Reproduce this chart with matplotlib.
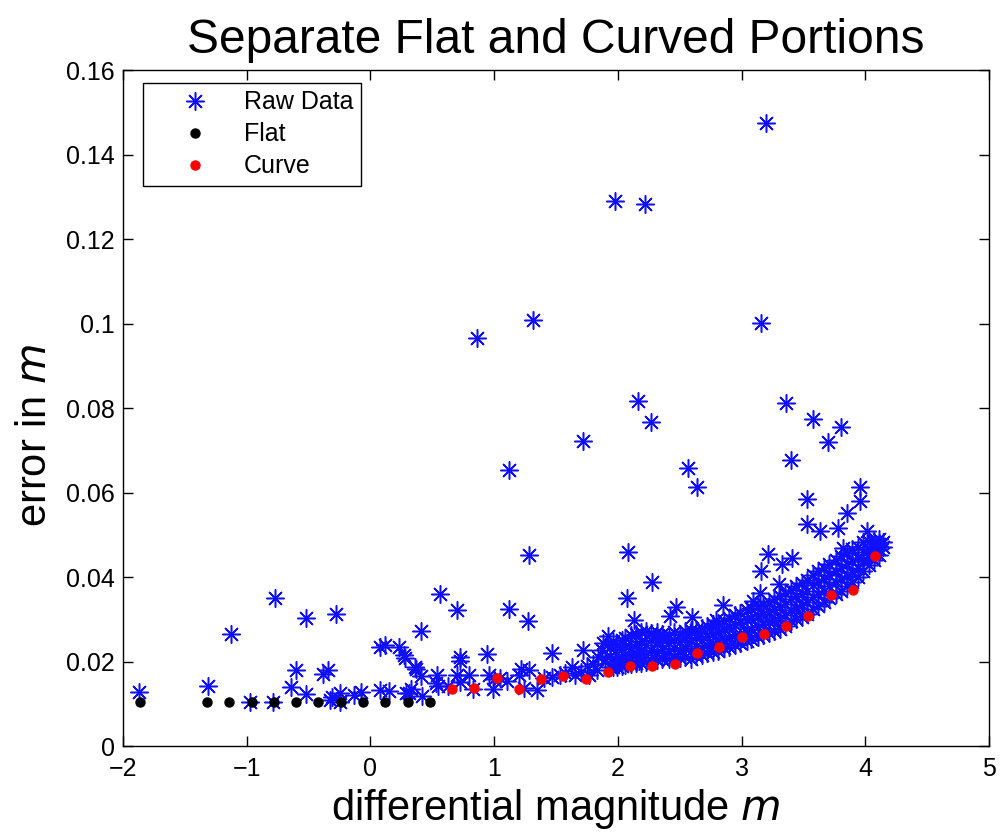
import matplotlib
matplotlib.use("Agg")
import matplotlib.pyplot as plt

plt.rcParams['font.family'] = ['Liberation Sans', 'DejaVu Sans']

# flat part (black) and curved part (red) of the binned errors
flat_x = [-1.86, -1.32, -1.14, -0.96, -0.78, -0.60, -0.42, -0.24, -0.06, 0.12, 0.30, 0.48]
flat_y = [0.0104] * 12

curve_x = [0.66, 0.84, 1.02, 1.20, 1.38, 1.56, 1.74, 1.92, 2.10, 2.28, 2.46, 2.64,
           2.82, 3.00, 3.18, 3.36, 3.54, 3.72, 3.90, 4.08]
curve_y = [0.0134, 0.0138, 0.0160, 0.0136, 0.0159, 0.0165, 0.0158, 0.0175, 0.0189, 0.0190,
           0.0195, 0.0221, 0.0234, 0.0258, 0.0264, 0.0285, 0.0307, 0.0358, 0.0370, 0.0450]

# scattered raw points (left and middle)
sparse_x = [-1.87, -1.31, -1.13, -0.97, -0.79, -0.77, -0.64, -0.60, -0.52, -0.52,
            -0.38, -0.34, -0.33, -0.31, -0.28, -0.25, -0.245, -0.13, -0.08, 0.08,
            0.12, 0.08, 0.15, 0.23, 0.27, 0.28, 0.36, 0.37, 0.41, 0.41,
            0.29, 0.315, 0.33, 0.42, 0.53, 0.54, 0.55, 0.56, 0.63, 0.70,
            0.72, 0.80, 0.83, 0.96, 0.99, 1.05, 1.22, 1.20, 1.28, 1.24,
            1.35, 1.40, 1.47, 1.53, 1.63, 1.65, 1.70, 1.80, 1.84, 1.96,
            2.03, 2.12, 2.17, 0.70, 1.12, 1.27, 0.72, 0.72, 0.94, 1.47,
            1.72, 1.92, 1.88, 1.96, 2.07, 2.13, 2.47, 2.42, 2.60, 2.79,
            1.00, 1.10, 1.57, 1.77, 1.83, 1.87, 1.75, 1.90]
sparse_y = [0.0128, 0.0141, 0.0264, 0.0104, 0.0104, 0.0351, 0.0140, 0.0179, 0.0304, 0.0122,
            0.0171, 0.0179, 0.0110, 0.0115, 0.0312, 0.0125, 0.0104, 0.0120, 0.0128, 0.0235,
            0.0240, 0.0132, 0.0130, 0.0235, 0.0216, 0.0209, 0.0188, 0.0183, 0.0165, 0.0273,
            0.0125, 0.0125, 0.0136, 0.0118, 0.0148, 0.0167, 0.0141, 0.0359, 0.0141, 0.0167,
            0.0151, 0.0167, 0.0136, 0.0167, 0.0136, 0.0162, 0.0183, 0.0167, 0.0179, 0.0138,
            0.0132, 0.0160, 0.0163, 0.0167, 0.0187, 0.0167, 0.0175, 0.0195, 0.0210, 0.0187,
            0.0202, 0.0218, 0.0202, 0.0322, 0.0324, 0.0295, 0.0210, 0.0202, 0.0218, 0.0220,
            0.0227, 0.0261, 0.0245, 0.0249, 0.0351, 0.0298, 0.0330, 0.0308, 0.0306, 0.0298,
            0.0158, 0.0155, 0.0172, 0.0168, 0.0180, 0.0228, 0.0190, 0.0205]

# outliers above the main band
high_x = [3.20, 1.98, 2.22, 1.31, 0.86, 3.16, 2.16, 2.27, 1.72, 1.12,
          2.57, 2.64, 3.36, 3.58, 3.80, 3.70, 3.40, 3.53, 1.28, 2.08,
          2.28, 3.85, 3.53, 3.63, 3.78, 3.21, 3.41, 3.33, 3.16, 3.30,
          3.15, 2.85, 3.09, 3.96, 3.96, 4.01, 4.11, 3.82]
high_y = [0.1475, 0.1291, 0.1282, 0.1009, 0.0965, 0.1002, 0.0816, 0.0767, 0.0722, 0.0653,
          0.0657, 0.0614, 0.0812, 0.0775, 0.0755, 0.0720, 0.0677, 0.0585, 0.0453, 0.0460,
          0.0388, 0.0551, 0.0526, 0.0508, 0.0516, 0.0455, 0.0444, 0.0430, 0.0414, 0.0384,
          0.0363, 0.0334, 0.0343, 0.0614, 0.0579, 0.0508, 0.0489, 0.0469]

# dense band of raw points, read column by column
band_x = [1.94] * 3 + [1.99] * 4 + [2.03] * 4 + [2.06] * 4 + [2.11] * 4 + [2.15] * 4 + \
         [2.19] * 4 + [2.23] * 4 + [2.27] * 4 + [2.32] * 4 + [2.36] * 4 + [2.41] * 4 + \
         [2.45] * 4 + [2.50] * 4 + [2.54] * 4 + [2.59] * 4 + [2.63] * 4 + [2.68] * 4 + \
         [2.72] * 4 + [2.77] * 4 + [2.81] * 4 + [2.86] * 4 + [2.90] * 4 + [2.95] * 4 + \
         [2.99] * 4 + [3.04] * 4 + [3.08] * 4 + [3.13] * 4 + [3.17] * 4 + [3.22] * 4 + \
         [3.26] * 4 + [3.31] * 4 + [3.35] * 4 + [3.40] * 4 + [3.44] * 4 + [3.49] * 4 + \
         [3.53] * 4 + [3.58] * 4 + [3.62] * 4 + [3.67] * 4 + [3.71] * 4 + [3.76] * 4 + \
         [3.80] * 4 + [3.85] * 4 + [3.89] * 4 + [3.94] * 4 + [3.98] * 4 + [4.03] * 4 + \
         [4.07] * 4 + [4.11] * 3 + [4.14] * 2
band_y = [0.0188, 0.0212, 0.0235,
          0.0188, 0.0200, 0.0218, 0.0240,
          0.0190, 0.0208, 0.0229, 0.0250,
          0.0192, 0.0213, 0.0236, 0.0255,
          0.0194, 0.0209, 0.0231, 0.0262,
          0.0196, 0.0218, 0.0241, 0.0266,
          0.0197, 0.0224, 0.0248, 0.0270,
          0.0199, 0.0215, 0.0239, 0.0272,
          0.0201, 0.0227, 0.0252, 0.0268,
          0.0203, 0.0221, 0.0246, 0.0271,
          0.0205, 0.0229, 0.0254, 0.0266,
          0.0206, 0.0224, 0.0243, 0.0262,
          0.0208, 0.0231, 0.0251, 0.0270,
          0.0209, 0.0227, 0.0246, 0.0265,
          0.0210, 0.0233, 0.0255, 0.0272,
          0.0205, 0.0225, 0.0250, 0.0275,
          0.0214, 0.0236, 0.0257, 0.0275,
          0.0216, 0.0233, 0.0252, 0.0279,
          0.0219, 0.0239, 0.0261, 0.0283,
          0.0223, 0.0242, 0.0265, 0.0288,
          0.0226, 0.0246, 0.0270, 0.0292,
          0.0231, 0.0252, 0.0276, 0.0297,
          0.0235, 0.0256, 0.0281, 0.0302,
          0.0240, 0.0262, 0.0287, 0.0310,
          0.0244, 0.0266, 0.0293, 0.0316,
          0.0249, 0.0271, 0.0298, 0.0321,
          0.0253, 0.0277, 0.0302, 0.0326,
          0.0258, 0.0282, 0.0307, 0.0331,
          0.0262, 0.0288, 0.0312, 0.0336,
          0.0267, 0.0293, 0.0318, 0.0342,
          0.0272, 0.0298, 0.0324, 0.0348,
          0.0277, 0.0303, 0.0330, 0.0355,
          0.0283, 0.0309, 0.0336, 0.0362,
          0.0295, 0.0322, 0.0348, 0.0370,
          0.0300, 0.0327, 0.0354, 0.0378,
          0.0306, 0.0333, 0.0360, 0.0386,
          0.0312, 0.0340, 0.0368, 0.0394,
          0.0325, 0.0352, 0.0380, 0.0405,
          0.0332, 0.0360, 0.0388, 0.0414,
          0.0340, 0.0368, 0.0396, 0.0422,
          0.0350, 0.0378, 0.0405, 0.0430,
          0.0360, 0.0388, 0.0415, 0.0440,
          0.0368, 0.0395, 0.0422, 0.0450,
          0.0378, 0.0403, 0.0430, 0.0458,
          0.0388, 0.0412, 0.0438, 0.0466,
          0.0400, 0.0422, 0.0446, 0.0472,
          0.0415, 0.0438, 0.0460, 0.0482,
          0.0428, 0.0448, 0.0466, 0.0484,
          0.0440, 0.0456, 0.0472, 0.0486,
          0.0452, 0.0466, 0.0479,
          0.0470, 0.0483]

raw_x = sparse_x + high_x + band_x
raw_y = sparse_y + high_y + band_y

fig = plt.figure(figsize=(10.01, 8.34), dpi=100)
ax = fig.add_axes([0.1229, 0.1055, 0.8651, 0.8105])

ax.plot(raw_x, raw_y, linestyle='none', marker=(8, 2, 0), markersize=13,
        markeredgewidth=1.1, color='#1010ff', label='Raw Data')
ax.plot(flat_x, flat_y, linestyle='none', marker='o', markersize=6.5,
        color='black', label='Flat')
ax.plot(curve_x, curve_y, linestyle='none', marker='o', markersize=6.5,
        color='red', label='Curve')

ax.set_xlim(-2, 5)
ax.set_ylim(0, 0.16)
ax.set_xticks([-2, -1, 0, 1, 2, 3, 4, 5])
ax.set_xticklabels(['\u22122', '\u22121', '0', '1', '2', '3', '4', '5'])
ax.set_yticks([0, 0.02, 0.04, 0.06, 0.08, 0.1, 0.12, 0.14, 0.16])
ax.set_yticklabels(['0', '0.02', '0.04', '0.06', '0.08', '0.1', '0.12', '0.14', '0.16'])
ax.tick_params(direction='in', top=True, right=True, length=7, width=1,
               labelsize=18)
ax.tick_params(axis='x', pad=8)
ax.tick_params(axis='y', pad=6)
for s in ax.spines.values():
    s.set_linewidth(1.0)

ax.set_title('Separate Flat and Curved Portions', fontsize=34.5, pad=12)
ax.set_xlabel('differential magnitude $\\it{m}$', fontsize=30, labelpad=4)
ax.set_ylabel('error in $\\it{m}$', fontsize=30)
ax.yaxis.set_label_coords(-0.079, 0.46)

leg = ax.legend(loc='upper left', bbox_to_anchor=(0.023, 0.981), borderaxespad=0,
                numpoints=1, fontsize=18, fancybox=False, edgecolor='black',
                framealpha=1, borderpad=0.3, handlelength=3.6, handletextpad=0.15,
                labelspacing=0.32)
leg.get_frame().set_linewidth(1.0)

fig.savefig('out.png', dpi=100)
